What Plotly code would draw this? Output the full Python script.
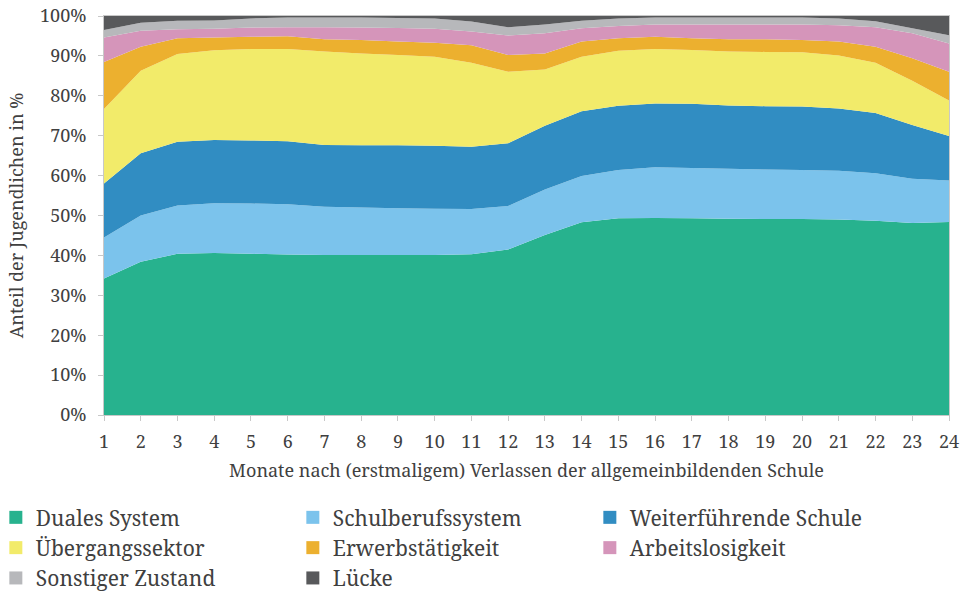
import plotly.graph_objects as go

monate = list(range(1, 25))

duales_system = [34.2, 38.4, 40.4, 40.6, 40.4, 40.2, 40.1, 40.1, 40.1, 40.1, 40.3, 41.5,
                 45.1, 48.3, 49.3, 49.4, 49.3, 49.2, 49.1, 49.1, 49.0, 48.7, 48.1, 48.4]
schulberufssystem = [10.3, 11.6, 12.1, 12.5, 12.6, 12.6, 12.1, 11.9, 11.7, 11.6, 11.3, 10.9,
                     11.4, 11.6, 12.1, 12.7, 12.6, 12.5, 12.4, 12.3, 12.2, 11.9, 11.1, 10.4]
weiterfuehrende_schule = [13.5, 15.6, 16.0, 15.8, 15.8, 15.8, 15.5, 15.6, 15.8, 15.8, 15.6, 15.7,
                          16.0, 16.2, 16.1, 16.0, 16.1, 15.9, 15.9, 15.9, 15.6, 15.1, 13.5, 11.1]
uebergangssektor = [18.7, 20.7, 22.0, 22.5, 22.9, 23.1, 23.4, 23.0, 22.6, 22.3, 21.1, 17.9,
                    14.1, 13.7, 13.8, 13.6, 13.5, 13.5, 13.6, 13.6, 13.3, 12.6, 11.1, 8.9]
erwerbstaetigkeit = [11.8, 6.0, 3.9, 3.2, 3.1, 3.2, 3.1, 3.4, 3.4, 3.5, 4.4, 4.2,
                     4.0, 3.8, 3.1, 3.1, 2.9, 3.1, 3.2, 3.1, 3.5, 4.0, 5.6, 7.2]
arbeitslosigkeit = [6.1, 4.0, 2.3, 2.2, 2.3, 2.3, 3.0, 3.1, 3.4, 3.5, 3.4, 4.9,
                    5.1, 3.3, 3.1, 3.1, 3.5, 3.7, 3.7, 3.9, 4.1, 4.9, 6.3, 7.1]
sonstiger_zustand = [1.9, 2.0, 2.1, 2.1, 2.3, 2.4, 2.4, 2.5, 2.5, 2.6, 2.5, 2.1,
                     2.2, 1.9, 1.9, 1.7, 1.7, 1.7, 1.7, 1.7, 1.7, 1.5, 1.2, 2.1]
luecke = [3.5, 1.7, 1.2, 1.1, 0.6, 0.4, 0.4, 0.4, 0.5, 0.6, 1.4, 2.8,
          2.1, 1.2, 0.6, 0.4, 0.4, 0.4, 0.4, 0.4, 0.6, 1.3, 3.1, 4.8]

series = [
    ("Duales System", duales_system, "#27b28e"),
    ("Schulberufssystem", schulberufssystem, "#7bc3ec"),
    ("Weiterführende Schule", weiterfuehrende_schule, "#318dc2"),
    ("Übergangssektor", uebergangssektor, "#f2eb6a"),
    ("Erwerbstätigkeit", erwerbstaetigkeit, "#ecb02f"),
    ("Arbeitslosigkeit", arbeitslosigkeit, "#d595ba"),
    ("Sonstiger Zustand", sonstiger_zustand, "#b7b8bb"),
    ("Lücke", luecke, "#58595b"),
]

fig = go.Figure()
for name, values, color in series:
    fig.add_trace(go.Scatter(
        x=monate, y=values, name=name, stackgroup="one", mode="none",
        fillcolor=color, showlegend=False, hoverinfo="x+y+name"
    ))
# legend entries as square swatches
for name, values, color in series:
    fig.add_trace(go.Scatter(
        x=[None], y=[None], name=name, mode="markers",
        marker=dict(symbol="square", size=13, color=color)
    ))

font = "Noto Serif"
fig.update_layout(
    width=966, height=591,
    margin=dict(l=104, r=17, t=16, b=176, autoexpand=False),
    paper_bgcolor="white", plot_bgcolor="white",
    font=dict(family=font, size=18, color="#404040"),
    legend=dict(
        orientation="h", x=-0.128, xanchor="left", y=-0.206, yanchor="top",
        entrywidth=252, itemwidth=30, traceorder="normal",
        font=dict(family=font, size=21, color="#404040"), tracegroupgap=0
    ),
)
fig.update_xaxes(
    range=[1, 24], tickmode="array", tickvals=monate,
    showgrid=False, zeroline=False, ticklabeloverflow="allow",
    showline=True, linecolor="#c8c8c8", linewidth=1, mirror=True,
    ticks="outside", ticklen=5, tickcolor="#c8c8c8", ticklabelstandoff=5,
    title=dict(text="Monate nach (erstmaligem) Verlassen der allgemeinbildenden Schule",
               font=dict(family=font, size=18), standoff=12),
    tickfont=dict(family=font, size=18),
)
fig.update_yaxes(
    range=[0, 100], dtick=10, ticksuffix="%",
    showgrid=False, zeroline=False, ticklabeloverflow="allow",
    showline=True, linecolor="#c8c8c8", linewidth=1, mirror=True,
    ticks="outside", ticklen=5, tickcolor="#c8c8c8", ticklabelstandoff=8,
    title=dict(text="Anteil der Jugendlichen in %", font=dict(family=font, size=18), standoff=11),
    tickfont=dict(family=font, size=18),
)

# drop the default 8px page margin so the figure fills the window exactly
fig.write_html("out.html", config={"displayModeBar": False},
               post_script="document.body.style.margin='0px';")
